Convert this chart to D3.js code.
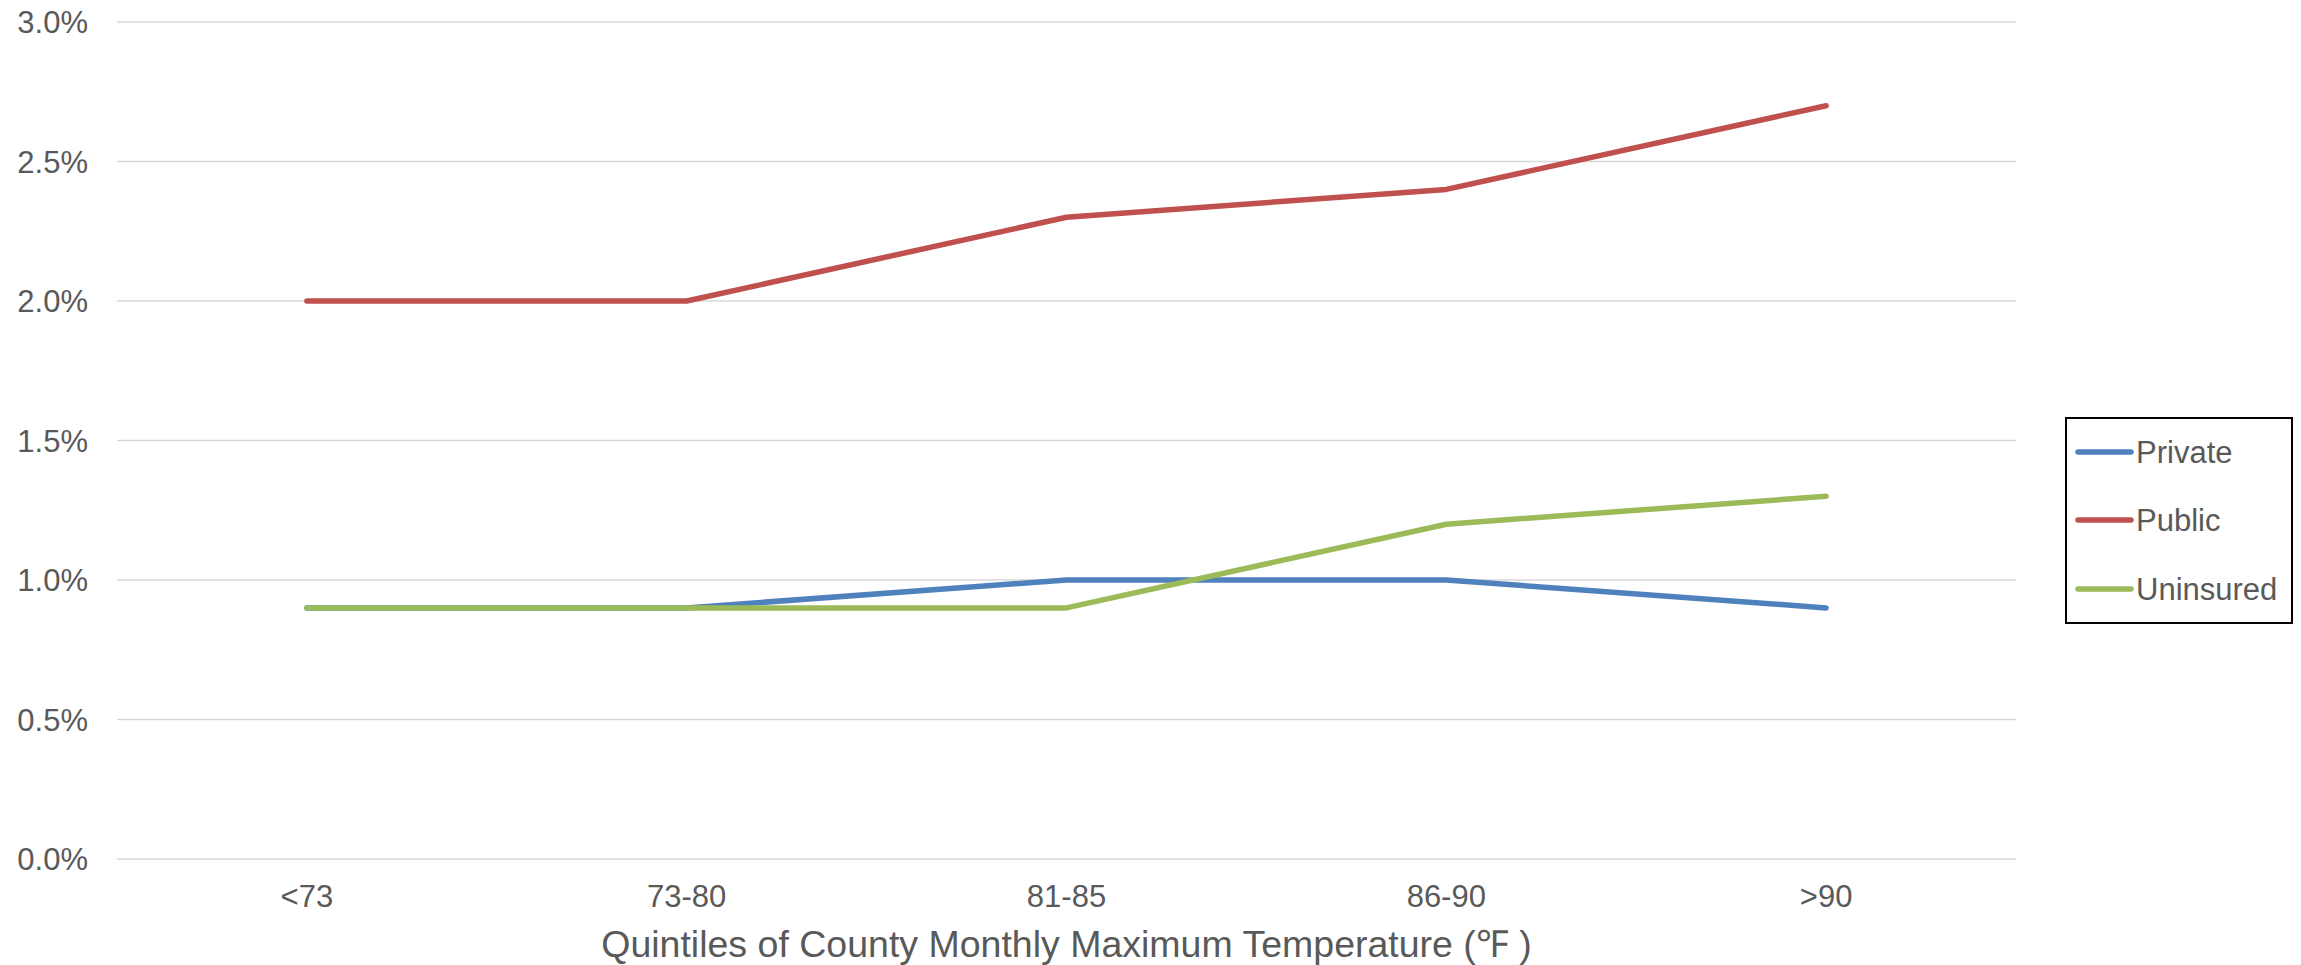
<!DOCTYPE html>
<html><head><meta charset="utf-8">
<script src="https://cdn.jsdelivr.net/npm/d3@7"></script>
<style>body{margin:0;background:#fff;} svg{display:block;} text{font-family:"Liberation Sans",Arial,sans-serif;fill:#595959;}</style>
</head><body>
<svg id="c" width="2301" height="965"></svg>
<script>
const categories = ["<73", "73-80", "81-85", "86-90", ">90"];
const privateVals = [0.9, 0.9, 1.0, 1.0, 0.9];
const publicVals = [2.0, 2.0, 2.3, 2.4, 2.7];
const uninsuredVals = [0.9, 0.9, 0.9, 1.2, 1.3];
const yTicks = [0, 0.5, 1.0, 1.5, 2.0, 2.5, 3.0];
const seriesNames = ["Private", "Public", "Uninsured"];
const seriesColors = ["#4f81bd", "#c0504d", "#9bbb59"];
const xTitle = "Quintiles of County Monthly Maximum Temperature (\u2109 )";

const series = [privateVals, publicVals, uninsuredVals].map((v, i) => ({name: seriesNames[i], color: seriesColors[i], values: v}));

const svg = d3.select("#c");
const L = 117, R = 2016, T = 22, B = 859;
const x = d3.scalePoint().domain(categories).range([L, R]).padding(0.5);
const y = d3.scaleLinear().domain([0, 3]).range([B, T]);

// gridlines
svg.append("g").selectAll("line").data(yTicks).join("line")
  .attr("x1", L).attr("x2", R)
  .attr("y1", d => y(d)).attr("y2", d => y(d))
  .attr("stroke", "#d9d9d9").attr("stroke-width", 1.5);

// y labels
svg.append("g").selectAll("text").data(yTicks).join("text")
  .attr("x", 88).attr("y", d => y(d)).attr("dy", "0.36em")
  .attr("text-anchor", "end").style("font-size", "31px")
  .text(d => d3.format(".1f")(d) + "%");

// x labels
svg.append("g").selectAll("text").data(categories).join("text")
  .attr("x", d => x(d)).attr("y", 907)
  .attr("text-anchor", "middle").style("font-size", "31px")
  .text(d => d);

// x title
svg.append("text").attr("x", (L + R) / 2).attr("y", 957)
  .attr("text-anchor", "middle").style("font-size", "37.5px").text(xTitle);

// lines
const line = d3.line().x((d, i) => x(categories[i])).y(d => y(d));
svg.append("g").selectAll("path").data(series).join("path")
  .attr("d", d => line(d.values))
  .attr("fill", "none").attr("stroke", d => d.color)
  .attr("stroke-width", 5.5).attr("stroke-linejoin", "round").attr("stroke-linecap", "round");

// legend
const lg = svg.append("g");
lg.append("rect").attr("x", 2066).attr("y", 418).attr("width", 226).attr("height", 205)
  .attr("fill", "#fff").attr("stroke", "#000").attr("stroke-width", 2);
const ly = [452, 520, 589];
series.forEach((s, i) => {
  lg.append("line").attr("x1", 2078).attr("x2", 2131).attr("y1", ly[i]).attr("y2", ly[i])
    .attr("stroke", s.color).attr("stroke-width", 5.5).attr("stroke-linecap", "round");
  lg.append("text").attr("x", 2136).attr("y", ly[i]).attr("dy", "0.36em")
    .style("font-size", "31px").text(s.name);
});
</script>
</body></html>
